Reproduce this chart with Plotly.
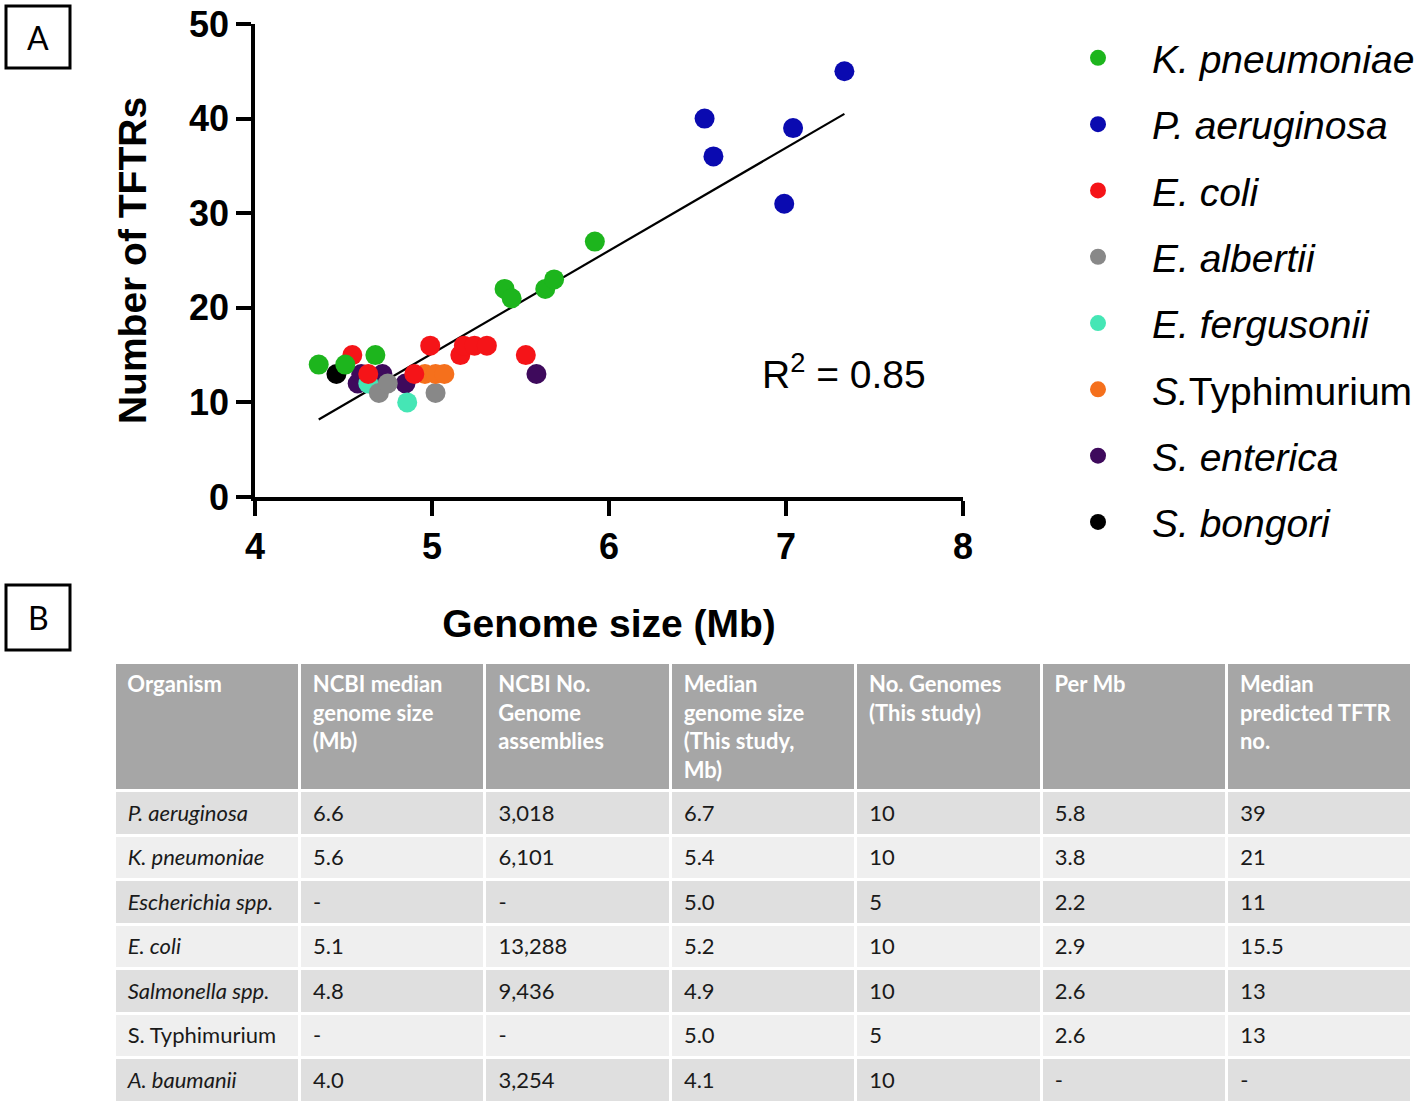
import plotly.graph_objects as go

# ==== Panel A data: genome size (Mb) vs number of TFTRs ====
kpn_x = [4.36, 4.51, 4.68, 5.41, 5.45, 5.64, 5.69, 5.92]
kpn_y = [14, 14, 15, 22, 21, 22, 23, 27]
pae_x = [6.54, 6.59, 6.99, 7.04, 7.33]
pae_y = [40, 36, 31, 39, 45]
eco_x = [4.55, 4.64, 4.90, 4.99, 5.16, 5.18, 5.24, 5.31, 5.53]
eco_y = [15, 13, 13, 16, 15, 16, 16, 16, 15]
ealb_x = [4.70, 4.75, 5.02]
ealb_y = [11, 12, 11]
efer_x = [4.64, 4.86]
efer_y = [12, 10]
styph_x = [4.96, 5.02, 5.07]
styph_y = [13, 13, 13]
sent_x = [4.58, 4.60, 4.72, 4.85, 5.59]
sent_y = [12, 13, 13, 12, 13]
sbon_x = [4.46]
sbon_y = [13]

fit_x = [4.36, 7.33]
fit_y = [8.2, 40.5]
r_squared = 0.85

# ==== Panel B data ====
header = ["Organism", "NCBI median<br>genome size<br>(Mb)", "NCBI No.<br>Genome<br>assemblies",
          "Median<br>genome size<br>(This study,<br>Mb)", "No. Genomes<br>(This study)", "Per Mb",
          "Median<br>predicted TFTR<br>no."]
organisms = ["<i>P. aeruginosa</i>", "<i>K. pneumoniae</i>", "<i>Escherichia spp.</i>", "<i>E. coli</i>",
             "<i>Salmonella spp.</i>", "S. Typhimurium", "<i>A. baumanii</i>"]
ncbi_size = ["6.6", "5.6", "-", "5.1", "4.8", "-", "4.0"]
ncbi_assemblies = ["3,018", "6,101", "-", "13,288", "9,436", "-", "3,254"]
study_size = ["6.7", "5.4", "5.0", "5.2", "4.9", "5.0", "4.1"]
n_genomes = ["10", "10", "5", "10", "10", "5", "10"]
per_mb = ["5.8", "3.8", "2.2", "2.9", "2.6", "2.6", "-"]
median_tftr = ["39", "21", "11", "15.5", "13", "13", "-"]

W, H = 1418, 1108
AX = "Liberation Sans"

series = [
    # name, x, y, color, legend rank (draw order differs from legend order)
    ("<i>S. bongori</i>", sbon_x, sbon_y, "#000000", 8),
    ("<i>S. enterica</i>", sent_x, sent_y, "#3e0a5c", 7),
    ("<i>E. fergusonii</i>", efer_x, efer_y, "#45e6b5", 5),
    ("<i>E. albertii</i>", ealb_x, ealb_y, "#888888", 4),
    ("<i>S.</i>Typhimurium", styph_x, styph_y, "#f5701c", 6),
    ("<i>E. coli</i>", eco_x, eco_y, "#f51418", 3),
    ("<i>K. pneumoniae</i>", kpn_x, kpn_y, "#1db51d", 1),
    ("<i>P. aeruginosa</i>", pae_x, pae_y, "#0a0ab0", 2),
]

fig = go.Figure()

fig.add_trace(go.Scatter(x=fit_x, y=fit_y, mode="lines", line=dict(color="black", width=2.2),
                         showlegend=False, hoverinfo="skip"))

for name, xs, ys, col, rank in series:
    fig.add_trace(go.Scatter(
        x=xs, y=ys, mode="markers", name=name,
        marker=dict(color=col, size=20, line=dict(width=0)),
        legendrank=rank, legendgroup=name,
    ))

fig.add_annotation(x=7.33, y=13.3, xref="x", yref="y", text=f"R<sup>2</sup> = {r_squared}",
                   showarrow=False, font=dict(family=AX, size=39, color="black"))

# table (panel B)
n = len(organisms)
row_fill = ["#dfdfdf" if i % 2 == 0 else "#efefef" for i in range(n)]
pad = "\u00a0"


def wrap(s):
    # same markup path for every cell so the baselines line up
    return "<span>" + pad + s.replace("<br>", "<br>" + pad) + "</span>"


fig.add_trace(go.Table(
    domain=dict(x=[114 / W, 1412 / W], y=[0.0, 1 - 662 / H]),
    columnwidth=[1] * 7,
    header=dict(
        values=[wrap(h) for h in header],
        fill_color="#a6a6a6", line=dict(color="white", width=3),
        align="left", height=127,
        font=dict(family="Lato", size=22, color="white", weight="bold"),
    ),
    cells=dict(
        values=[[wrap(v) for v in col] for col in
                [organisms, ncbi_size, ncbi_assemblies, study_size, n_genomes, per_mb, median_tftr]],
        fill_color=[row_fill] * 7, line=dict(color="white", width=3),
        align="left", height=44.5,
        font=dict(family="Lato", size=22, color="#1a1a1a"),
    ),
))

# panel letters
for letter, y0, y1 in [("A", 6, 68), ("B", 585, 650)]:
    fig.add_shape(type="rect", xref="paper", yref="paper", x0=6 / W, x1=70 / W,
                  y0=1 - y1 / H, y1=1 - y0 / H, line=dict(color="black", width=3))
    fig.add_annotation(x=38 / W, y=1 - (y0 + y1) / 2 / H, xref="paper", yref="paper", text=letter,
                       showarrow=False, yanchor="middle", xanchor="center",
                       font=dict(family="Lato", size=32, color="black"))

fig.update_layout(
    width=W, height=H,
    margin=dict(l=0, r=0, t=0, b=0, autoexpand=False),
    plot_bgcolor="white", paper_bgcolor="white",
    legend=dict(x=1044 / W, y=1 - 26 / H, xanchor="left", yanchor="top",
                font=dict(family=AX, size=39, color="black"),
                tracegroupgap=12.6, itemwidth=98, itemsizing="trace"),
    xaxis=dict(domain=[255 / W, 963 / W], range=[4, 8], tickvals=[4, 5, 6, 7, 8], automargin=False,
               showline=True, linecolor="black", linewidth=3.5, ticks="outside", ticklen=15,
               tickwidth=3.5, tickcolor="black", showgrid=False, zeroline=False,
               tickfont=dict(family=AX, size=36, color="black", weight="bold"),
               title=dict(text="Genome size (Mb)", standoff=45,
                          font=dict(family=AX, size=39, color="black", weight="bold"))),
    yaxis=dict(domain=[1 - 497 / H, 1 - 24 / H], range=[0, 50], tickvals=[0, 10, 20, 30, 40, 50],
               automargin=False,
               showline=True, linecolor="black", linewidth=3.5, ticks="outside", ticklen=15,
               tickwidth=3.5, tickcolor="black", showgrid=False, zeroline=False,
               tickfont=dict(family=AX, size=36, color="black", weight="bold"),
               title=dict(text="Number of TFTRs", standoff=31,
                          font=dict(family=AX, size=39, color="black", weight="bold"))),
)

# drop the browser's default body margin so the figure sits at the page corner
fig.write_html("out.html", config={"displayModeBar": False},
               post_script="document.body.style.margin = '0';")
